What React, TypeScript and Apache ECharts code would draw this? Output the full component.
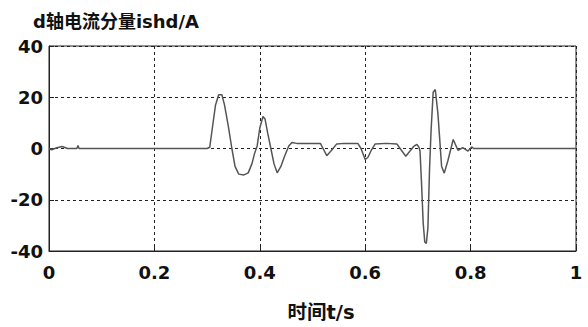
import React, { useEffect, useRef } from "react";
import * as echarts from "echarts";

const timeValues: number[] = [
  0, 0.005, 0.015, 0.025, 0.035, 0.053, 0.055, 0.057, 0.3, 0.305, 0.31, 0.316,
  0.322, 0.328, 0.333, 0.34, 0.347, 0.353, 0.36, 0.37, 0.378, 0.385, 0.39,
  0.395, 0.4, 0.406, 0.41, 0.415, 0.421, 0.427, 0.433, 0.44, 0.447, 0.455,
  0.461, 0.47, 0.5, 0.515, 0.52, 0.527, 0.535, 0.546, 0.56, 0.586, 0.592, 0.6,
  0.605, 0.612, 0.619, 0.64, 0.66, 0.668, 0.677, 0.685, 0.692, 0.698, 0.702,
  0.704, 0.707, 0.71, 0.713, 0.716, 0.719, 0.722, 0.725, 0.729, 0.733, 0.738,
  0.745, 0.75, 0.757, 0.767, 0.776, 0.785, 0.795, 0.802, 0.806, 1.0,
];

const currentValues: number[] = [
  0, -0.5, 0.3, 0.8, 0, 0, 1.2, 0, 0, 0.5, 8, 17, 21, 21, 17, 9, 0, -7, -10,
  -10.3, -9.5, -6, -2, 1, 8, 12.5, 11.5, 6, 0, -6, -9.5, -7, -3, 1, 2.3, 2, 2,
  2, 0, -2.8, -1, 1.8, 2, 2, 0, -4.3, -3.5, -0.5, 1.8, 2, 1.8, -0.5, -3, -1,
  0.8, 1.6, 0.5, -1, -14, -29, -36.5, -37, -31, -8.6, 7, 22, 23, 13.6, -7,
  -9.6, -4.7, 3.5, -0.7, 0.3, -1, 0.6, 0, 0,
];

const xTicks = { min: 0, max: 1, interval: 0.2 };
const yTicks = { min: -40, max: 40, interval: 20 };

const yTitle = "d轴电流分量ishd/A";
const xTitle = "时间t/s";

const FONT = "'DejaVu Sans', 'Noto Sans CJK SC', sans-serif";

export default function App() {
  const ref = useRef<HTMLDivElement>(null);

  useEffect(() => {
    document.body.style.margin = "0";
    if (!ref.current) return;
    const chart = echarts.init(ref.current, null, { renderer: "svg" });
    const data = timeValues.map((t, i) => [t, currentValues[i]]);
    const gridLine = {
      show: true,
      lineStyle: { color: "#222", type: [3, 3] as any, width: 1 },
    };
    chart.setOption({
      animation: false,
      backgroundColor: "#fff",
      title: {
        text: yTitle,
        left: 28,
        top: 7,
        textStyle: {
          fontFamily: FONT,
          fontWeight: "bold",
          fontSize: 18,
          color: "#111",
        },
      },
      graphic: [
        {
          type: "text",
          x: 321,
          y: 312,
          style: {
            text: xTitle,
            fontFamily: FONT,
            fontWeight: "bold",
            fontSize: 19.5,
            fill: "#111",
            align: "center",
            verticalAlign: "middle",
          },
        },
      ],
      grid: {
        left: 49,
        right: 12,
        top: 46,
        bottom: 76,
        show: true,
        borderColor: "#222",
        borderWidth: 1,
      },
      xAxis: {
        type: "value",
        min: xTicks.min,
        max: xTicks.max,
        interval: xTicks.interval,
        axisLine: { show: true, onZero: false, lineStyle: { color: "#222" } },
        axisTick: { show: true, inside: true, length: 5, lineStyle: { color: "#222" } },
        axisLabel: {
          fontFamily: FONT,
          fontWeight: "bold",
          fontSize: 18,
          color: "#111",
          margin: 12,
          formatter: (v: number) => String(Math.round(v * 10) / 10),
        },
        splitLine: gridLine,
      },
      yAxis: {
        type: "value",
        min: yTicks.min,
        max: yTicks.max,
        interval: yTicks.interval,
        axisLine: { show: true, lineStyle: { color: "#222" } },
        axisTick: { show: true, inside: true, length: 5, lineStyle: { color: "#222" } },
        axisLabel: {
          fontFamily: FONT,
          fontWeight: "bold",
          fontSize: 18,
          color: "#111",
          margin: 6,
        },
        splitLine: gridLine,
      },
      series: [
        {
          type: "line",
          data,
          showSymbol: false,
          symbol: "none",
          lineStyle: { color: "#555", width: 1.5 },
        },
      ],
    });
    return () => chart.dispose();
  }, []);

  return (
    <div
      ref={ref}
      style={{ width: 588, height: 327, position: "absolute", left: 0, top: 0 }}
    />
  );
}
